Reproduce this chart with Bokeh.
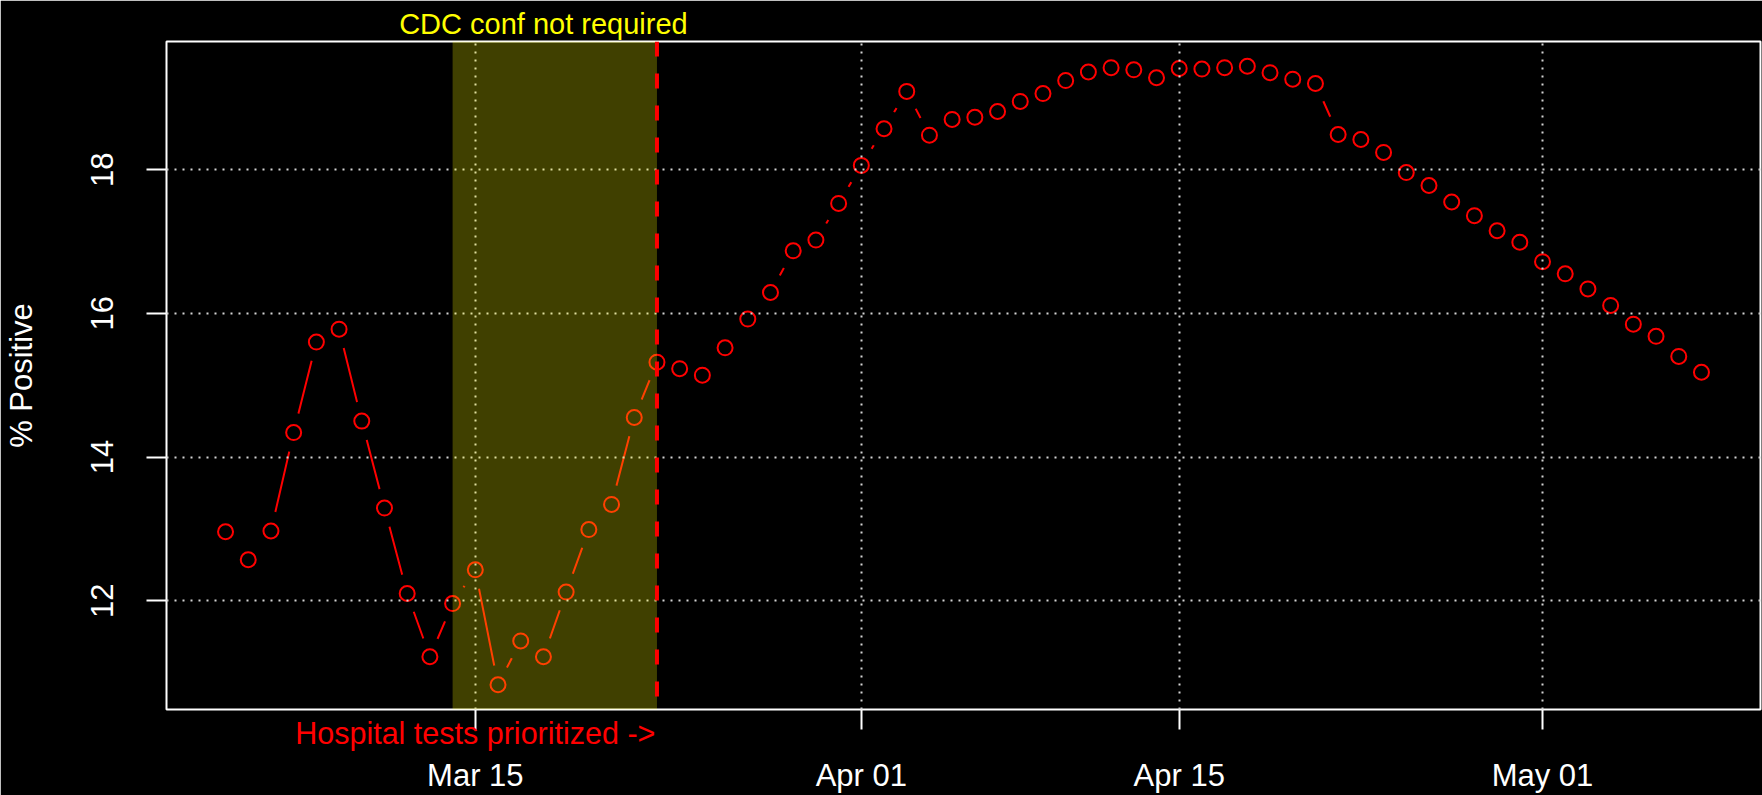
import pandas as pd
from bokeh.plotting import figure
from bokeh.models import (Range1d, FixedTicker, DatetimeTickFormatter, DatetimeAxis,
                          BoxAnnotation, Span)
from bokeh.embed import file_html
from bokeh.resources import INLINE

# ---------------- data ----------------
start_date = "2020-03-04"
pct_positive = [12.96, 12.57, 12.97, 14.34, 15.60, 15.78, 14.50, 13.29, 12.10, 11.22,
                11.96, 12.43, 10.83, 11.44, 11.22, 12.12, 12.99, 13.34, 14.55, 15.32,
                15.23, 15.14, 15.52, 15.92, 16.29, 16.87, 17.02, 17.53, 18.06, 18.57,
                19.09, 18.48, 18.70, 18.73, 18.81, 18.95, 19.06, 19.24, 19.36, 19.42,
                19.39, 19.28, 19.41, 19.40, 19.42, 19.44, 19.35, 19.26, 19.20, 18.49,
                18.42, 18.24, 17.96, 17.78, 17.55, 17.36, 17.15, 16.99, 16.72, 16.55,
                16.34, 16.11, 15.85, 15.68, 15.40, 15.18]
dates = pd.date_range(start_date, periods=len(pct_positive), freq="D")

x_tick_dates = ["2020-03-15", "2020-04-01", "2020-04-15", "2020-05-01"]
y_ticks = [12, 14, 16, 18]
shade_start = "2020-03-14"
shade_end = "2020-03-23"
title_date = "2020-03-18"
title_text = "CDC conf not required"
note_date = "2020-03-15"
note_text = "Hospital tests prioritized ->"
y_label = "% Positive"


def ms(d):
    return float(pd.Timestamp(d).value / 1e6)


# R-style 4% range extension
x0, x1 = ms(dates[0]), ms(dates[-1])
xpad = 0.04 * (x1 - x0)
y0, y1 = min(pct_positive), max(pct_positive)
ypad = 0.04 * (y1 - y0)

FONT = "Liberation Sans"
fmt = "%b %d"
date_fmt = DatetimeTickFormatter(days=fmt, months=fmt, years=fmt, hours=fmt,
                                 hourmin=fmt, minutes=fmt, minsec=fmt,
                                 seconds=fmt, milliseconds=fmt, microseconds=fmt)

p = figure(width=1762, height=795, x_axis_type="datetime",
           output_backend="svg", toolbar_location=None,
           x_range=Range1d(x0 - xpad, x1 + xpad),
           y_range=Range1d(y0 - ypad, y1 + ypad),
           background_fill_color="black", border_fill_color="black",
           min_border_left=164, min_border_right=2,
           min_border_top=41, min_border_bottom=84)

p.outline_line_color = "white"
p.outline_line_width = 2

# ---- inner x axis: tick marks + the red note under the plot ----
xa = p.xaxis[0]
xa.ticker = FixedTicker(ticks=[ms(d) for d in x_tick_dates])
xa.formatter = date_fmt
xa.major_label_overrides = {ms(d): (note_text if d == note_date else "") for d in x_tick_dates}
xa.axis_line_color = None
xa.major_tick_line_color = "white"
xa.major_tick_line_width = 2
xa.major_tick_out = 20
xa.major_tick_in = 0
xa.minor_tick_line_color = None
xa.major_label_text_color = "red"
xa.major_label_text_font = FONT
xa.major_label_text_font_size = "30.5px"
xa.major_label_standoff = -14

# ---- outer x axis: date labels ----
xb = DatetimeAxis(ticker=FixedTicker(ticks=[ms(d) for d in x_tick_dates]), formatter=date_fmt)
xb.axis_line_color = None
xb.major_tick_line_color = None
xb.major_tick_out = 0
xb.major_tick_in = 0
xb.minor_tick_line_color = None
xb.major_label_text_color = "white"
xb.major_label_text_font = FONT
xb.major_label_text_font_size = "31px"
xb.major_label_standoff = 5
p.add_layout(xb, "below")

# ---- top axis: the yellow caption of the shaded period ----
xt = DatetimeAxis(ticker=FixedTicker(ticks=[ms(title_date)]), formatter=date_fmt)
xt.major_label_overrides = {ms(title_date): title_text}
xt.axis_line_color = None
xt.major_tick_line_color = None
xt.major_tick_out = 0
xt.major_tick_in = 0
xt.minor_tick_line_color = None
xt.major_label_text_color = "#FFFF00"
xt.major_label_text_font = FONT
xt.major_label_text_font_size = "29px"
xt.major_label_standoff = 2
p.add_layout(xt, "above")

# ---- y axis ----
ya = p.yaxis[0]
ya.ticker = FixedTicker(ticks=y_ticks)
ya.axis_line_color = None
ya.major_tick_line_color = "white"
ya.major_tick_line_width = 2
ya.major_tick_out = 20
ya.major_tick_in = 0
ya.minor_tick_line_color = None
ya.major_label_text_color = "white"
ya.major_label_text_font = FONT
ya.major_label_text_font_size = "31px"
ya.major_label_orientation = "vertical"
ya.major_label_standoff = 33
ya.axis_label = y_label
ya.axis_label_text_color = "white"
ya.axis_label_text_font = FONT
ya.axis_label_text_font_size = "31px"
ya.axis_label_text_font_style = "normal"
ya.axis_label_standoff = 50

# grid (drawn above the points, like R's grid())
for g in (p.xgrid[0], p.ygrid[0]):
    g.grid_line_color = "#D3D3D3"
    g.grid_line_width = 2
    g.grid_line_dash = "2 6"
    g.level = "guide"

# type="b": line with gaps around each point
p.line(dates, pct_positive, line_color="red", line_width=2)
p.scatter(dates, pct_positive, size=39, marker="circle",
          fill_color="black", line_color=None)
p.scatter(dates, pct_positive, size=15, marker="circle",
          fill_color=None, line_color="red", line_width=2)

# shaded period (semi-transparent yellow on top)
p.add_layout(BoxAnnotation(left=ms(shade_start), right=ms(shade_end),
                           fill_color="yellow", fill_alpha=0.25, line_color=None))
p.add_layout(Span(location=ms(shade_end), dimension="height",
                  line_color="red", line_width=4, line_dash="15 17"))

open("out.html", "w").write(file_html(p, INLINE))
